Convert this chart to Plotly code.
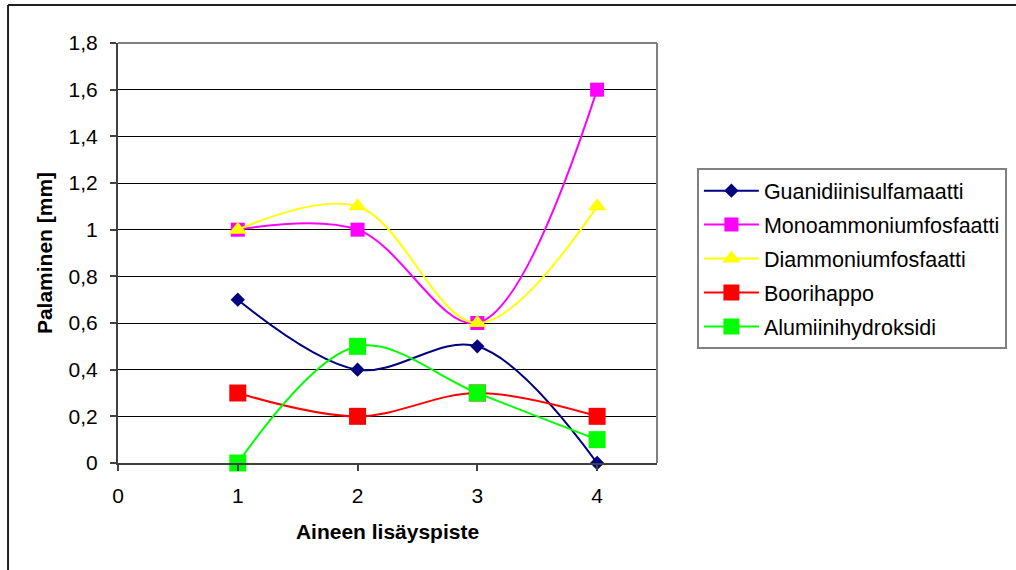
import plotly.graph_objects as go

# Aineen lisäyspiste (x) and measured palaminen [mm] per substance
points = [1, 2, 3, 4]
guanidiini = [0.7, 0.4, 0.5, 0.0]
monoammonium = [1.0, 1.0, 0.6, 1.6]
diammonium = [1.0, 1.1, 0.6, 1.1]
boorihappo = [0.3, 0.2, 0.3, 0.2]
alumiini = [0.0, 0.5, 0.3, 0.1]

series = [
    ("Guanidiinisulfamaatti", guanidiini, "#000080", "diamond", 11),
    ("Monoammoniumfosfaatti", monoammonium, "#FF00FF", "square", 14),
    ("Diammoniumfosfaatti", diammonium, "#FFFF00", "triangle-up", 16),
    ("Boorihappo", boorihappo, "#FF0000", "square", 17),
    ("Alumiinihydroksidi", alumiini, "#00FF00", "square", 17),
]

FONT = "Liberation Sans, Arial, sans-serif"

fig = go.Figure()
for name, vals, color, symbol, size in series:
    fig.add_trace(go.Scatter(
        x=points, y=vals, name=name, legendgroup=name,
        mode="lines+markers", cliponaxis=False,
        line=dict(color=color, width=2, shape="spline", smoothing=1),
        marker=dict(color=color, symbol=symbol, size=size, line=dict(width=0)),
    ))

fig.update_layout(
    width=1016, height=570,
    margin=dict(l=118, r=359, t=43, b=107, autoexpand=False),
    paper_bgcolor="white", plot_bgcolor="white",
    separators=",.",
    font=dict(family=FONT, size=20, color="black"),
    showlegend=True,
    legend=dict(
        x=1.074, xanchor="left", y=0.702, yanchor="top",
        bordercolor="#808080", borderwidth=2, bgcolor="white",
        font=dict(family=FONT, size=21.5, color="black"),
        tracegroupgap=3, itemsizing="trace", itemwidth=55,
    ),
)

fig.update_xaxes(
    range=[0, 4.5], tickmode="array", tickvals=[0, 1, 2, 3, 4],
    ticks="outside", ticklen=6, tickcolor="#404040", tickwidth=2,
    showline=True, linecolor="#404040", linewidth=2,
    showgrid=False, zeroline=False,
    tickfont=dict(size=21), ticklabelstandoff=7,
    title=dict(text="<b>Aineen lisäyspiste</b>", font=dict(size=21), standoff=18),
)
fig.update_yaxes(
    range=[0, 1.8], tickmode="linear", tick0=0, dtick=0.2,
    ticks="outside", ticklen=6, tickcolor="#404040", tickwidth=2,
    showline=True, linecolor="#404040", linewidth=2,
    showgrid=True, gridcolor="black", gridwidth=1, zeroline=False,
    tickfont=dict(size=21), ticklabelstandoff=8,
    title=dict(text="<b>Palaminen [mm]</b>", font=dict(size=21), standoff=10),
)

# Plot-area right edge and the chart frame (top and left)
fig.add_shape(type="line", xref="paper", yref="paper", x0=1, x1=1, y0=0, y1=1,
              line=dict(color="#808080", width=2))
fig.add_shape(type="line", xref="paper", yref="paper", x0=0, x1=1, y0=1, y1=1,
              line=dict(color="#808080", width=2))
fig.add_shape(type="line", xref="paper", yref="paper",
              x0=-0.204, x1=1.7, y0=1.0905, y1=1.0905,
              line=dict(color="#202020", width=2))
fig.add_shape(type="line", xref="paper", yref="paper",
              x0=-0.204, x1=-0.204, y0=1.0905, y1=-0.3,
              line=dict(color="#202020", width=2))

fig.write_html("out.html")
